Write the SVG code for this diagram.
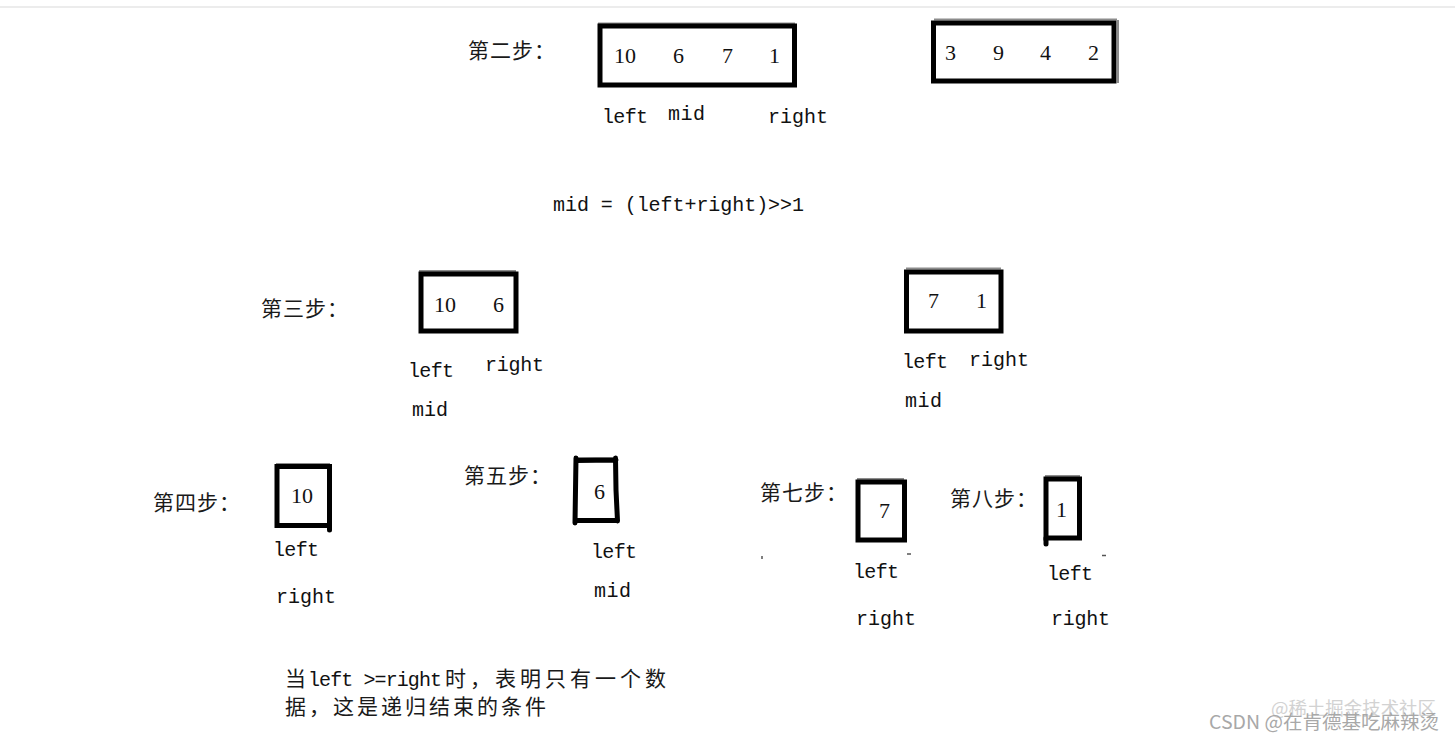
<svg xmlns="http://www.w3.org/2000/svg" width="1455" height="742" viewBox="0 0 1455 742">
<style>
.bg{fill:#ffffff}
.topline{stroke:#e6e6e6;stroke-width:1.5}
.box{fill:none;stroke:#000;stroke-width:5;stroke-linejoin:miter;stroke-linecap:round}
.edge{stroke:#8c8c8c;stroke-width:2;fill:none}
.speck{stroke:#555;stroke-width:1.5}
.num{font-family:"Liberation Serif","Noto Sans CJK SC",serif;font-size:22px;fill:#111}
.lbl{font-family:"Liberation Mono","Noto Sans CJK SC",monospace;font-size:20px;fill:#111}
.cjk{font-family:"Noto Sans CJK SC","Liberation Serif",sans-serif;font-size:21px;fill:#1a1a1a;letter-spacing:1px}
.wm1{font-family:"Noto Sans CJK SC","Liberation Sans",sans-serif;font-size:18px;fill:#d2d2d2}
.wm2{font-family:"Noto Sans CJK SC","Liberation Sans",sans-serif;font-size:19px;fill:#a8a8a8}
</style>
<rect class="bg" x="0" y="0" width="1455" height="742"/>
<line class="topline" x1="0" y1="7" x2="1455" y2="7"/>

<g id="connectors"></g>

<g id="step2">
  <text class="cjk" x="468" y="58">第二步：</text>
</g>

<g id="box-10-6-7-1">
  <line class="edge" x1="598" y1="23.5" x2="795" y2="23.5"/>
  <rect class="box" x="600" y="26" width="194.5" height="59"/>
  <text class="num" x="614" y="63">10</text>
  <text class="num" x="673" y="63">6</text>
  <text class="num" x="722" y="63">7</text>
  <text class="num" x="769" y="63">1</text>
  <text class="lbl" x="602" y="123" textLength="46" lengthAdjust="spacing">left</text>
  <text class="lbl" x="668" y="120" textLength="37" lengthAdjust="spacing">mid</text>
  <text class="lbl" x="768" y="123" textLength="60" lengthAdjust="spacing">right</text>
</g>

<g id="box-3-9-4-2">
  <line class="edge" x1="934" y1="19.5" x2="1117" y2="19.5"/>
  <line class="edge" x1="1118" y1="20" x2="1118" y2="83"/>
  <rect class="box" x="933.5" y="23" width="180.5" height="58"/>
  <text class="num" x="945" y="60">3</text>
  <text class="num" x="993" y="60">9</text>
  <text class="num" x="1040" y="60">4</text>
  <text class="num" x="1088" y="60">2</text>
</g>

<g id="formula">
  <text class="lbl" x="553" y="211" textLength="251" lengthAdjust="spacing">mid = (left+right)&gt;&gt;1</text>
</g>

<g id="step3">
  <text class="cjk" x="261" y="316">第三步：</text>
</g>

<g id="box-10-6">
  <line class="edge" x1="419" y1="271" x2="516" y2="271"/>
  <rect class="box" x="421" y="274" width="95" height="57"/>
  <text class="num" x="434" y="312">10</text>
  <text class="num" x="493" y="312">6</text>
  <text class="lbl" x="408" y="377" textLength="46" lengthAdjust="spacing">left</text>
  <text class="lbl" x="485" y="371" textLength="59" lengthAdjust="spacing">right</text>
  <text class="lbl" x="412" y="416" textLength="36" lengthAdjust="spacing">mid</text>
</g>

<g id="box-7-1">
  <line class="edge" x1="906" y1="268.5" x2="1001" y2="268.5"/>
  <rect class="box" x="906.5" y="272" width="94.5" height="59"/>
  <text class="num" x="928" y="308">7</text>
  <text class="num" x="976" y="308">1</text>
  <text class="lbl" x="902" y="368" textLength="46" lengthAdjust="spacing">left</text>
  <text class="lbl" x="969" y="366" textLength="60" lengthAdjust="spacing">right</text>
  <text class="lbl" x="905" y="407" textLength="37" lengthAdjust="spacing">mid</text>
</g>

<g id="step4">
  <text class="cjk" x="153" y="510">第四步：</text>
</g>

<g id="box-10">
  <line class="edge" x1="276" y1="464" x2="330" y2="464"/>
  <rect class="box" x="277" y="466.5" width="52.5" height="59"/>
  <line class="box" x1="329.5" y1="525" x2="329.5" y2="530"/>
  <text class="num" x="291" y="503">10</text>
  <text class="lbl" x="273" y="556" textLength="46" lengthAdjust="spacing">left</text>
  <text class="lbl" x="276" y="603" textLength="60" lengthAdjust="spacing">right</text>
</g>

<g id="step5">
  <text class="cjk" x="464" y="483">第五步：</text>
</g>

<g id="box-6">
  <line class="edge" x1="578" y1="458" x2="615" y2="458"/>
  <path class="box" d="M576,458 L575.5,490 L575,523 M576,460.5 L616,460 M615.5,458 L616,490 L617.5,521 M576,520.5 L617.5,520.5"/>
  <text class="num" x="594" y="499">6</text>
  <text class="lbl" x="591" y="558" textLength="46" lengthAdjust="spacing">left</text>
  <text class="lbl" x="594" y="597" textLength="37" lengthAdjust="spacing">mid</text>
</g>

<g id="step7">
  <text class="cjk" x="760" y="500">第七步：</text>
</g>

<g id="box-7">
  <line class="edge" x1="857" y1="479" x2="904" y2="479"/>
  <rect class="box" x="858" y="482" width="46.5" height="58"/>
  <text class="num" x="879" y="518">7</text>
  <line class="speck" x1="907" y1="554" x2="911" y2="554"/>
  <line class="speck" x1="762" y1="556" x2="762" y2="559"/>
  <text class="lbl" x="853" y="578" textLength="46" lengthAdjust="spacing">left</text>
  <text class="lbl" x="856" y="625" textLength="60" lengthAdjust="spacing">right</text>
</g>

<g id="step8">
  <text class="cjk" x="950" y="506">第八步：</text>
</g>

<g id="box-1">
  <line class="edge" x1="1045" y1="476" x2="1080" y2="476"/>
  <rect class="box" x="1046" y="479" width="33.5" height="59"/>
  <line class="box" x1="1046" y1="538" x2="1046" y2="544"/>
  <text class="num" x="1056" y="517">1</text>
  <line class="speck" x1="1102" y1="555.5" x2="1106" y2="555.5"/>
  <text class="lbl" x="1047" y="580" textLength="46" lengthAdjust="spacing">left</text>
  <text class="lbl" x="1051" y="625" textLength="59" lengthAdjust="spacing">right</text>
</g>

<g id="note">
  <text class="cjk" x="285" y="686" font-size="22" letter-spacing="0">当</text>
  <text class="lbl" x="308" y="686" textLength="134" lengthAdjust="spacing">left &gt;=right</text>
  <text class="cjk" x="445" y="686" font-size="22" textLength="222" lengthAdjust="spacing">时，表明只有一个数</text>
  <text class="cjk" x="285" y="714" font-size="22" textLength="262" lengthAdjust="spacing">据，这是递归结束的条件</text>
</g>

<g id="watermark">
  <text class="wm1" x="1271" y="715" textLength="165" lengthAdjust="spacingAndGlyphs">@稀土掘金技术社区</text>
  <text class="wm2" x="1209" y="729" textLength="230" lengthAdjust="spacingAndGlyphs">CSDN @在肯德基吃麻辣烫</text>
</g>
</svg>
